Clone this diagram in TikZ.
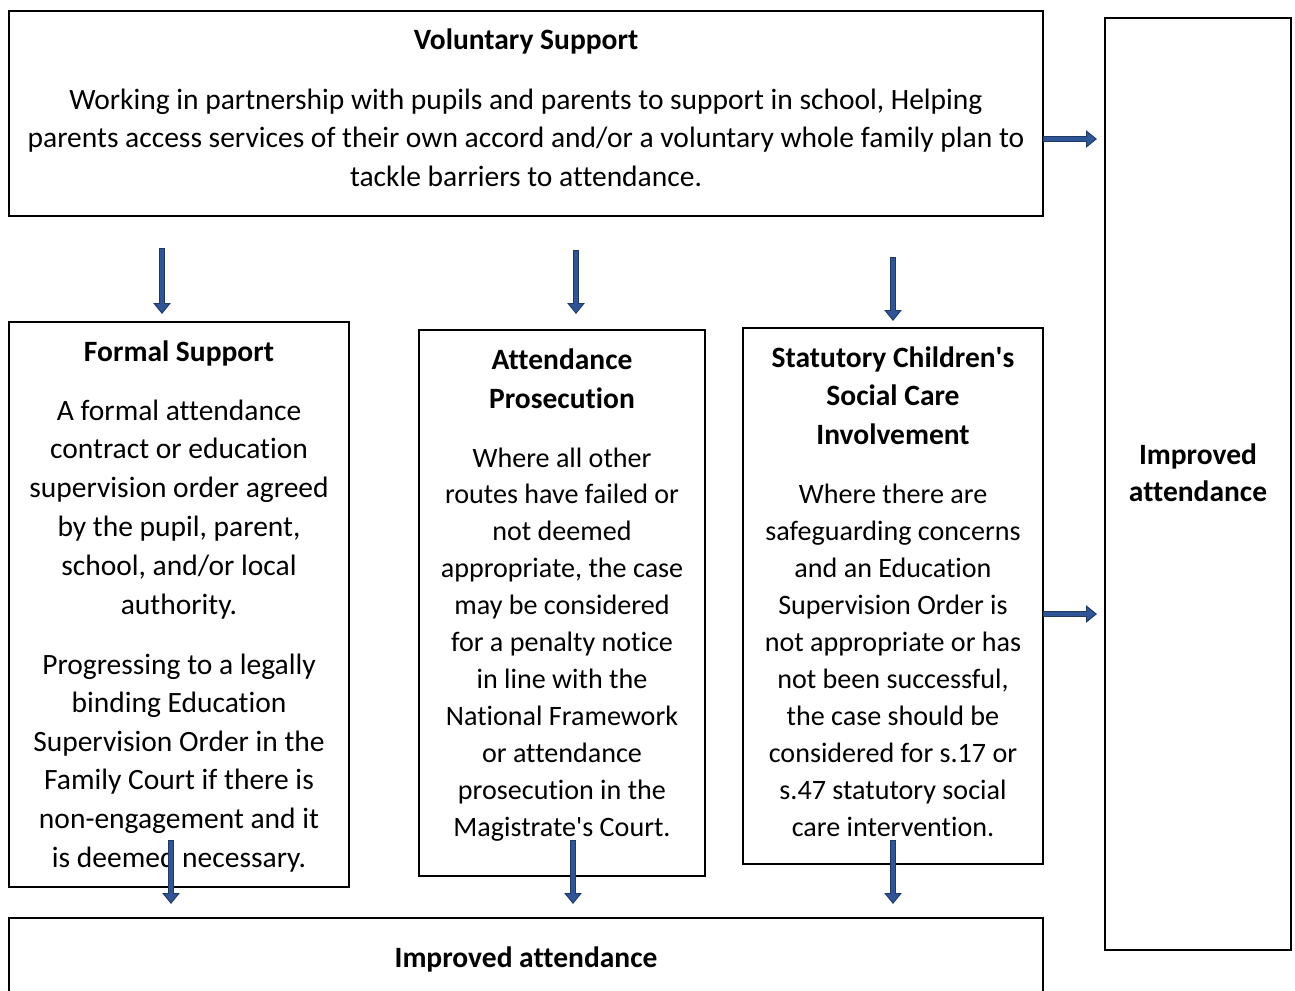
\documentclass[tikz,border=0pt]{standalone}
\usepackage{fontspec}
\setmainfont{Carlito}[Ligatures={NoCommon}]
\usetikzlibrary{arrows.meta,calc}
\definecolor{arrowfill}{HTML}{2F5597}
\definecolor{arrowedge}{HTML}{1F3864}
\newcommand{\fs}[1]{\fontsize{29.5}{#1}\selectfont}
\newcommand{\fss}[1]{\fontsize{28.1}{#1}\selectfont}
\begin{document}
\begin{tikzpicture}[x=1pt,y=-1pt,
  box/.style={draw=black, line width=1.3pt, inner sep=0pt, outer sep=0pt, anchor=north west},
  txt/.style={anchor=base, align=center, inner sep=0pt, font=\fs{38.5}},
  barrow/.style={draw=arrowedge, line width=6pt, -{Triangle[length=11pt,width=17pt]},
    postaction={draw=arrowfill, line width=3.4pt, -{Triangle[length=8.5pt,width=12.5pt]}, shorten >=1.5pt, shorten <=0.9pt}}
  ]
\clip (0,0) rectangle (1295,990);
% boxes
\node[box, minimum width=1034pt, minimum height=205pt] (vol) at (9,11) {};
\node[box, minimum width=186pt, minimum height=932pt] (right) at (1105,18) {};
\node[box, minimum width=340pt, minimum height=565pt] (formal) at (9,322) {};
\node[box, minimum width=286pt, minimum height=546pt] (pros) at (419,330) {};
\node[box, minimum width=300pt, minimum height=536pt] (stat) at (743,328) {};
\node[box, minimum width=1034pt, minimum height=120pt] (bottom) at (9,918) {};
% texts (anchor base = last line's baseline)
\node[txt, font=\fs{38.5}\bfseries] (volt) at (526,50) {Voluntary Support};
\node[txt] (volb) at (526,186) {Working in partnership with pupils and parents to support in school, Helping\\parents access services of their own accord and/or a voluntary whole family plan to\\tackle barriers to attendance.};
\node[txt, font=\fs{38.8}\bfseries] (formt) at (179,361) {Formal Support};
\node[txt, font=\fs{38.8}] (formb1) at (179,614) {A formal attendance\\contract or education\\supervision order agreed\\by the pupil, parent,\\school, and/or local\\authority.};
\node[txt, font=\fs{38.6}] (formb2) at (179,867) {Progressing to a legally\\binding Education\\Supervision Order in the\\Family Court if there is\\non-engagement and it\\is deemed necessary.};
\node[txt, font=\fs{39}\bfseries] (prost) at (562,408) {Attendance\\Prosecution};
\node[txt, font=\fss{36.9}] (prosb) at (562,836) {Where all other\\routes have failed or\\not deemed\\appropriate, the case\\may be considered\\for a penalty notice\\in line with the\\National Framework\\or attendance\\prosecution in the\\Magistrate\textquotesingle s Court.};
\node[txt, font=\fs{38.5}\bfseries] (statt) at (893,444) {Statutory Children\textquotesingle s\\Social Care\\Involvement};
\node[txt, font=\fss{37}] (statb) at (893,836) {Where there are\\safeguarding concerns\\and an Education\\Supervision Order is\\not appropriate or has\\not been successful,\\the case should be\\considered for s.17 or\\s.47 statutory social\\care intervention.};
\node[txt, font=\fs{37}\bfseries] (rightt) at (1198,501) {Improved\\attendance};
\node[txt, font=\fs{38.5}\bfseries] (bott) at (526,967) {Improved attendance};
% arrows
\coordinate (r1s) at (1043,139); \coordinate (r1e) at (1097,139);
\coordinate (r2s) at (1043,614); \coordinate (r2e) at (1097,614);
\coordinate (d1s) at (162,248); \coordinate (d1e) at (162,314);
\coordinate (d2s) at (576,250); \coordinate (d2e) at (576,314);
\coordinate (d3s) at (893,257); \coordinate (d3e) at (893,321);
\coordinate (b1s) at (171,840); \coordinate (b1e) at (171,904);
\coordinate (b2s) at (573,840); \coordinate (b2e) at (573,904);
\coordinate (b3s) at (893,840); \coordinate (b3e) at (893,904);
\draw[barrow] (r1s) -- (r1e);
\draw[barrow] (r2s) -- (r2e);
\draw[barrow] (d1s) -- (d1e);
\draw[barrow] (d2s) -- (d2e);
\draw[barrow] (d3s) -- (d3e);
\draw[barrow] (b1s) -- (b1e);
\draw[barrow] (b2s) -- (b2e);
\draw[barrow] (b3s) -- (b3e);
\end{tikzpicture}
\end{document}
